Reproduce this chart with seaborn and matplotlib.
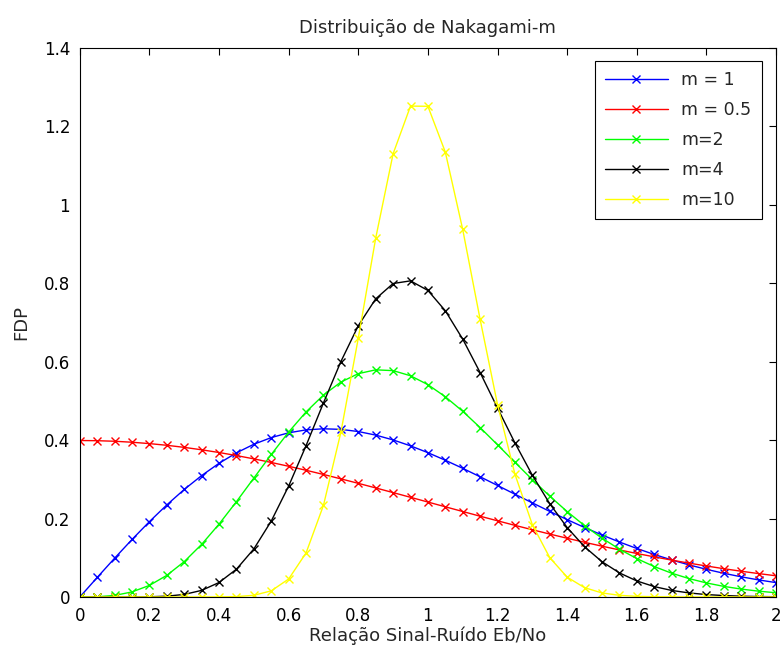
import numpy as np
import pandas as pd
import seaborn as sns
import matplotlib
matplotlib.use("Agg")
import matplotlib.pyplot as plt

# Eixo x: relacao sinal-ruido, passo 0.05
x_vals = [round(0.05 * i, 2) for i in range(41)]

# FDP (uma lista por curva)
m1 = [0.0, 0.0499, 0.0990, 0.1467, 0.1922, 0.2349, 0.2742, 0.3096, 0.3409, 0.3675,
      0.3894, 0.4064, 0.4186, 0.4260, 0.4288, 0.4273, 0.4218, 0.4127, 0.4004, 0.3853,
      0.3679, 0.3486, 0.3280, 0.3064, 0.2843, 0.2620, 0.2399, 0.2182, 0.1972, 0.1771,
      0.1581, 0.1402, 0.1237, 0.1084, 0.0945, 0.0818, 0.0705, 0.0604, 0.0514, 0.0435,
      0.0366]
m05 = [0.3989, 0.3984, 0.3970, 0.3945, 0.3910, 0.3867, 0.3814, 0.3752, 0.3683, 0.3605,
       0.3521, 0.3429, 0.3332, 0.3230, 0.3123, 0.3011, 0.2897, 0.2780, 0.2661, 0.2541,
       0.2420, 0.2299, 0.2179, 0.2059, 0.1942, 0.1826, 0.1714, 0.1604, 0.1497, 0.1394,
       0.1295, 0.1200, 0.1109, 0.1023, 0.0940, 0.0863, 0.0790, 0.0721, 0.0656, 0.0596,
       0.0540]
m2 = [0.0, 0.0005, 0.0039, 0.0129, 0.0295, 0.0552, 0.0902, 0.1342, 0.1859, 0.2431,
      0.3033, 0.3634, 0.4206, 0.4719, 0.5149, 0.5479, 0.5694, 0.5791, 0.5771, 0.5640,
      0.5413, 0.5105, 0.4734, 0.4319, 0.3880, 0.3433, 0.2992, 0.2571, 0.2178, 0.1819,
      0.1500, 0.1220, 0.0979, 0.0776, 0.0607, 0.0469, 0.0358, 0.0270, 0.0201, 0.0148,
      0.0107]
m4 = [0.0, 0.0, 0.0, 0.0001, 0.0005, 0.0020, 0.0065, 0.0168, 0.0369, 0.0709,
      0.1226, 0.1937, 0.2830, 0.3860, 0.4950, 0.6003, 0.6917, 0.7602, 0.7992, 0.8060,
      0.7815, 0.7298, 0.6575, 0.5722, 0.4818, 0.3928, 0.3104, 0.2379, 0.1771, 0.1280,
      0.0900, 0.0615, 0.0409, 0.0265, 0.0167, 0.0103, 0.0061, 0.0036, 0.0020, 0.0011,
      0.0006]
m10 = [0.0, 0.0, 0.0, 0.0, 0.0, 0.0, 0.0, 0.0, 0.0002, 0.0009,
       0.0043, 0.0156, 0.0459, 0.1124, 0.2339, 0.4202, 0.6599, 0.9149, 1.1300, 1.2516,
       1.2511, 1.1343, 0.9370, 0.7078, 0.4907, 0.3131, 0.1844, 0.1003, 0.0506, 0.0237,
       0.0103, 0.0042, 0.0016, 0.0006, 0.0002, 0.0001, 0.0, 0.0, 0.0, 0.0,
       0.0]

labels = ["m = 1", "m = 0.5", "m=2", "m=4", "m=10"]
series = [m1, m05, m2, m4, m10]
cores = ["#0000ff", "#ff0000", "#00ff00", "#000000", "#ffff00"]

df = pd.DataFrame({
    "x": x_vals * len(series),
    "fdp": [v for s in series for v in s],
    "curva": [lab for lab in labels for _ in x_vals],
})

sns.set_style("white")
plt.rcParams['font.family'] = ['DejaVu Sans']

fig = plt.figure(figsize=(7.83, 6.56), dpi=100)
ax = fig.add_axes([0.102, 0.090, 0.889, 0.837])

sns.lineplot(data=df, x="x", y="fdp", hue="curva", hue_order=labels,
             palette=dict(zip(labels, cores)), marker="x", markersize=6,
             linewidth=1, ax=ax)

# seaborn pinta a borda dos marcadores de branco; usar a cor da linha
for ln in ax.lines:
    ln.set_markeredgecolor(ln.get_color())
    ln.set_markeredgewidth(1)

ax.set_xlim(0, 2)
ax.set_ylim(0, 1.4)
ax.set_xticks(np.arange(0, 2.01, 0.2))
ax.set_yticks(np.arange(0, 1.41, 0.2))
ax.set_xticklabels(["0", "0.2", "0.4", "0.6", "0.8", "1", "1.2", "1.4", "1.6", "1.8", "2"])
ax.set_yticklabels(["0", "0.2", "0.4", "0.6", "0.8", "1", "1.2", "1.4"])
ax.tick_params(direction="in", top=True, right=True, length=5, width=0.8,
               labelsize=12, colors="black", pad=7)
for sp in ax.spines.values():
    sp.set_color("black")
    sp.set_linewidth(0.8)

ax.set_title("Distribuição de Nakagami-m", fontsize=13, pad=11)
ax.set_xlabel("Relação Sinal-Ruído Eb/No", fontsize=13, labelpad=1)
ax.set_ylabel("FDP", fontsize=13, labelpad=10)

leg = ax.legend(loc="upper right", bbox_to_anchor=(0.98, 0.976), fontsize=12.5,
                frameon=True, fancybox=False, edgecolor="black", framealpha=1,
                handlelength=3.6, labelspacing=0.68, borderpad=0.6,
                borderaxespad=0)
leg.get_frame().set_linewidth(0.8)
for h in leg.legend_handles:
    h.set_markeredgecolor(h.get_color())

fig.savefig("out.png", dpi=100)
